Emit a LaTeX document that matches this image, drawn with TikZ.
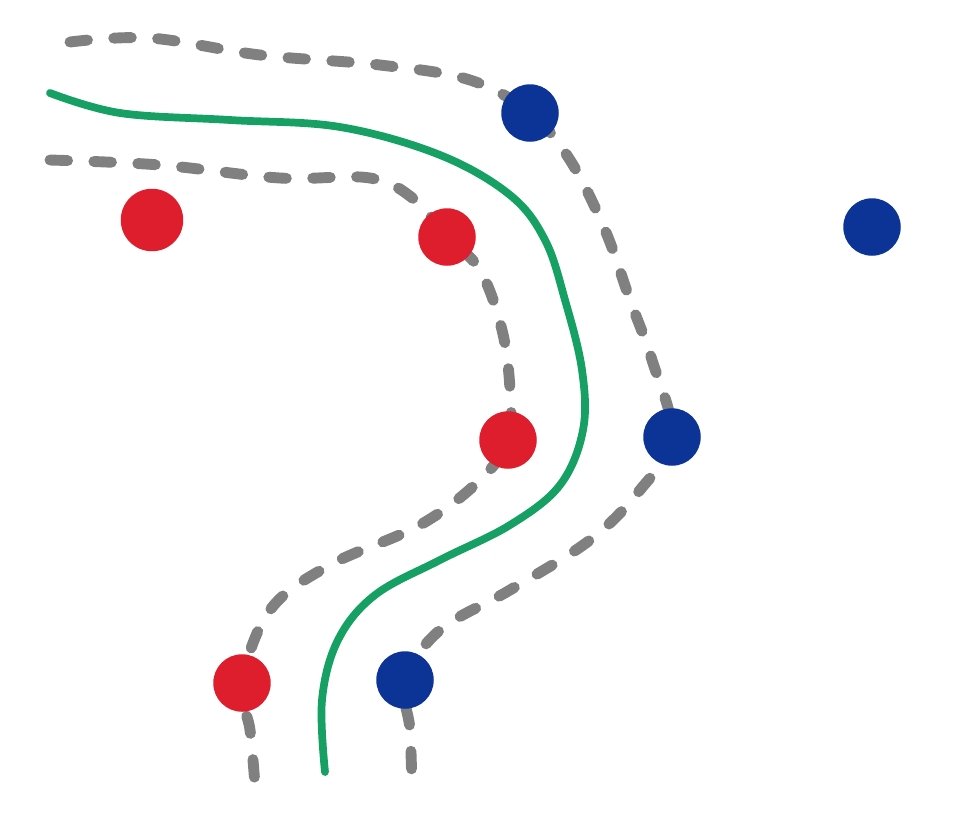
\documentclass[tikz,border=0pt]{standalone}
\definecolor{ptred}{RGB}{222,30,45}
\definecolor{ptblue}{RGB}{12,52,150}
\definecolor{sepgreen}{RGB}{22,160,100}
\definecolor{margray}{RGB}{128,128,128}
\tikzset{
  redpt/.style={circle,fill=ptred,inner sep=0pt,minimum size=1.15cm},
  bluept/.style={circle,fill=ptblue,inner sep=0pt,minimum size=1.15cm},
  margin/.style={draw=margray,line width=6.2pt,line cap=round,dash pattern=on 10pt off 15pt},
  separator/.style={draw=sepgreen,line width=4.4pt,line cap=round}
}
\begin{document}
\begin{tikzpicture}[x=0.02cm,y=-0.02cm]
\useasboundingbox[fill=white] (0,0) rectangle (969,826);
% points
\coordinate (b1) at (530,113);
\coordinate (b2) at (672,437);
\coordinate (b3) at (405,680);
\coordinate (r1) at (447,237);
\coordinate (r2) at (508,440);
\coordinate (r3) at (242,683);
% outer margin
\draw[margin] plot[smooth,tension=0.6] coordinates {(70,42) (150,38) (260,55) (380,65) (470,80) (b1) (570,160) (605,230) (630,300) (652,360) (b2) (640,490) (590,540) (510,590) (440,630) (b3) (410,730) (412,790)};
% inner margin
\draw[margin] plot[smooth,tension=0.6] coordinates {(50,160) (160,165) (280,178) (370,178) (415,200) (r1) (480,270) (502,330) (510,390) (r2) (480,480) (420,525) (330,565) (270,610) (r3) (250,730) (255,785)};
% separator
\draw[separator] plot[smooth,tension=0.6] coordinates {(50,93) (120,113) (230,120) (340,127) (440,155) (510,195) (545,240) (565,300) (582,370) (583,430) (560,485) (510,525) (440,560) (375,595) (338,640) (322,700) (325,772)};
% dots
\node[bluept] (nb1) at (b1) {};
\node[bluept] (nb2) at (b2) {};
\node[bluept] (nb3) at (b3) {};
\node[bluept] (nb4) at (872,227) {};
\node[redpt] (nr1) at (r1) {};
\node[redpt] (nr2) at (r2) {};
\node[redpt] (nr3) at (r3) {};
\node[redpt,minimum size=1.25cm] (nr4) at (152,220) {};
\end{tikzpicture}
\end{document}
